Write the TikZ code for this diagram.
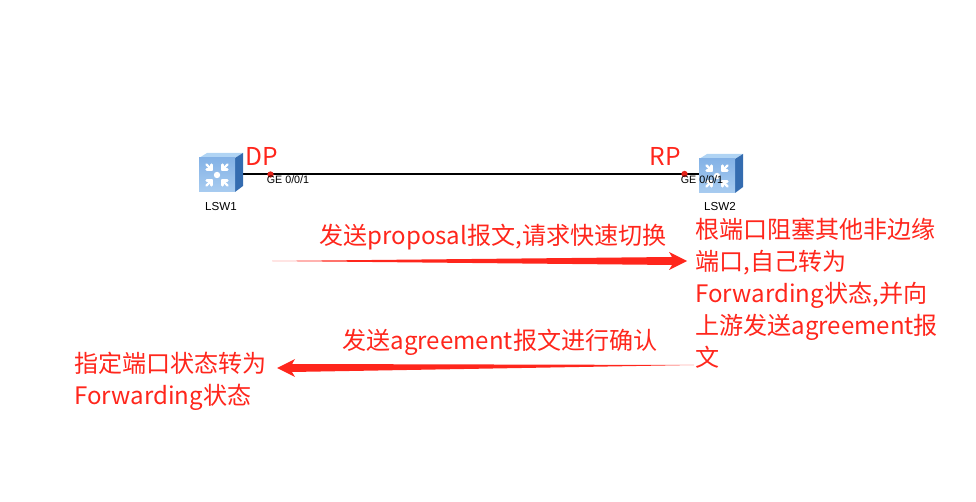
\documentclass[tikz,border=0pt]{standalone}
\usepackage{fontspec}
\setmainfont{Noto Sans CJK SC}
\newfontfamily\labelfont{Liberation Sans}
\usetikzlibrary{calc}
\definecolor{notered}{RGB}{255,38,28}
\definecolor{swfront}{RGB}{132,178,230}
\definecolor{swfrontlow}{RGB}{168,204,240}
\definecolor{swtop}{RGB}{176,212,244}
\definecolor{swside}{RGB}{52,108,176}
\tikzset{
    note/.style={text=notered, font=\fontsize{13.7pt}{18.15pt}\selectfont, align=left, inner sep=0pt},
    port/.style={font=\labelfont\fontsize{6.1pt}{7pt}\selectfont, inner sep=0pt},
    devname/.style={font=\labelfont\fontsize{6.6pt}{8pt}\selectfont, inner sep=0pt},
    portdot/.style={circle, fill=notered!90!black, minimum size=3.6pt, inner sep=0pt},
    swbox/.style={minimum width=0.8cm, minimum height=0.7cm, inner sep=0pt},
    iconarrow/.style={draw=white, line width=1.4pt, line cap=round}
}
% switch icon, #1 is the centre of the front face
\newcommand{\switchicon}[1]{
    \begin{scope}[shift={#1}]
        \fill[swtop] (-18,-17) -- (-10,-22) -- (26,-22) -- (18,-17) -- cycle;
        \fill[swside] (18,-17) -- (26,-22) -- (26,11) -- (18,17) -- cycle;
        \shade[top color=swfront, bottom color=swfrontlow] (-18,-17) rectangle (18,17);
        \fill[white] (0,0) circle (3.2);
        \foreach \ang in {45,135,225,315} {
            \draw[iconarrow] (\ang:15) -- (\ang:7.5);
            \draw[iconarrow] (\ang:7.5) -- +(\ang+45:5);
            \draw[iconarrow] (\ang:7.5) -- +(\ang-45:5);
        }
    \end{scope}
}
\begin{document}
\begin{tikzpicture}[x=0.02cm, y=-0.02cm]
    \useasboundingbox (0,0) rectangle (976,502);

    % Draw connections
    \coordinate (out1) at (235,173.7);
    \coordinate (out2) at (699,173.7);
    \draw[line width=1.25pt] (out1) -- (out2);

    % Draw nodes
    \switchicon{(217,175)}
    \switchicon{(717,176)}
    \node[swbox] (lsw1) at (217,175) {};
    \node[swbox] (lsw2) at (717,176) {};
    \node[devname] (name1) at (221,207) {LSW1};
    \node[devname] (name2) at (720,207) {LSW2};
    \node[portdot] (dot1) at (270.5,174.5) {};
    \node[portdot] (dot2) at (684.5,174) {};
    \node[port] (ge1) at (288,180) {GE 0/0/1};
    \node[port] (ge2) at (702,180) {GE 0/0/1};

    % Labels
    \node[note, font=\fontsize{14pt}{16pt}\selectfont] (dp) at (262,156) {DP};
    \node[note, font=\fontsize{14pt}{16pt}\selectfont] (rp) at (665,156) {RP};
    \node[note] (proposal) at (493,237) {发送proposal报文,请求快速切换};
    \node[note] (agreement) at (500,342) {发送agreement报文进行确认};
    \node[note, anchor=north west] (root) at (695,218) {根端口阻塞其他非边缘\\端口,自己转为\\Forwarding状态,并向\\上游发送agreement报\\文};
    \node[note, anchor=north west] (desig) at (74,352) {指定端口状态转为\\Forwarding状态};

    % Draw arrows
    \coordinate (tail1) at (272,261);
    \coordinate (head1) at (687,261);
    \coordinate (tail2) at (694,365);
    \coordinate (head2) at (277,368);
    \fill[notered] (tail1) -- ($(head1)+(-15,-4)$) -- ($(head1)+(-18,-9)$) -- (head1)
        -- ($(head1)+(-18,9)$) -- ($(head1)+(-15,4)$) -- cycle;
    \fill[notered] (tail2) -- ($(head2)+(15,-4)$) -- ($(head2)+(18,-9)$) -- (head2)
        -- ($(head2)+(18,9)$) -- ($(head2)+(15,4)$) -- cycle;
\end{tikzpicture}
\end{document}
